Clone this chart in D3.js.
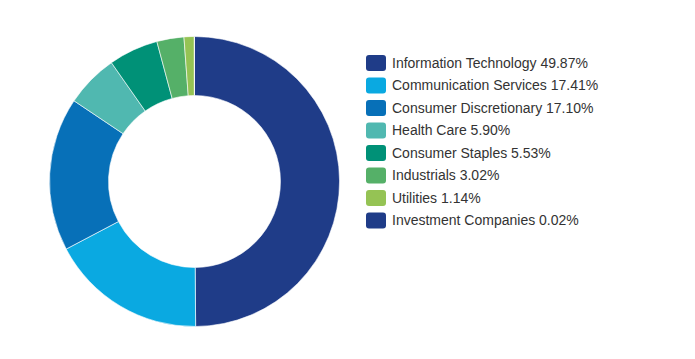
<!DOCTYPE html>
<html>
<head>
<meta charset="utf-8">
<script src="https://cdn.jsdelivr.net/npm/d3@7"></script>
<style>
  body { margin: 0; background: #fff; }
  svg { display: block; }
</style>
</head>
<body>
<div id="chart"></div>
<script>
var width = 695;
var height = 359;

// sector weights, clockwise from 12 o'clock
const sectors = ["Information Technology", "Communication Services", "Consumer Discretionary",
  "Health Care", "Consumer Staples", "Industrials", "Utilities", "Investment Companies"];
const weights = [49.87, 17.41, 17.10, 5.90, 5.53, 3.02, 1.14, 0.02];
const colors = ["#1f3c88", "#0aa9e1", "#0770b8", "#50b8b0", "#009177", "#55b068", "#95c354", "#1f3c88"];

const data = sectors.map((name, i) => ({name: name, value: weights[i], color: colors[i]}));

const svg = d3.select("#chart").append("svg")
  .attr("width", width)
  .attr("height", height);

const pie = d3.pie()
  .sort(null)
  .value(d => d.value);

const arc = d3.arc()
  .innerRadius(86)
  .outerRadius(145);

const donut = svg.append("g")
  .attr("transform", "translate(194.5,181.5)");

donut.selectAll("path")
  .data(pie(data))
  .join("path")
  .attr("d", arc)
  .attr("fill", d => d.data.color)
  .attr("stroke", "#fff")
  .attr("stroke-width", 0.6);

// legend
const rowY = d3.scaleBand()
  .domain(sectors)
  .range([52, 52 + 22.5 * sectors.length]);

const legend = svg.append("g")
  .selectAll("g")
  .data(data)
  .join("g")
  .attr("transform", d => `translate(366,${rowY(d.name)})`);

legend.append("rect")
  .attr("y", 3)
  .attr("width", 20)
  .attr("height", 16)
  .attr("rx", 3)
  .attr("fill", d => d.color);

legend.append("text")
  .attr("x", 26)
  .attr("y", 11)
  .attr("dy", "0.35em")
  .attr("font-family", "Arial, 'Liberation Sans', sans-serif")
  .attr("font-size", 14)
  .attr("fill", "#333")
  .text(d => `${d.name} ${d.value.toFixed(2)}%`);
</script>
</body>
</html>
